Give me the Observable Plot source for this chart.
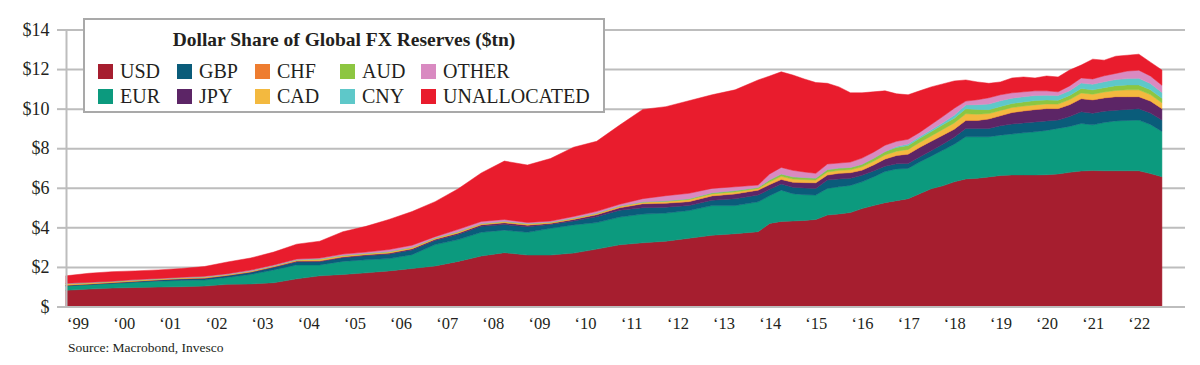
<!DOCTYPE html>
<html>
<head>
<meta charset="utf-8">
<script src="https://cdn.jsdelivr.net/npm/d3@7"></script>
<script src="https://cdn.jsdelivr.net/npm/@observablehq/plot@0.6"></script>
<style>
  body { margin: 0; background: #fff; }
  #wrap { position: relative; width: 1200px; height: 365px; font-family: "Liberation Serif", "Times New Roman", serif; color: #231f20; }
  #legend { position: absolute; left: 83px; top: 18px; width: 518px; height: 91px; border: 2px solid #a9a9a9; background: #fff; }
  #legend .title { position: absolute; left: 0; right: 0; top: 9px; text-align: center; font-weight: bold; font-size: 19.5px; }
  #legend .item { position: absolute; display: flex; align-items: center; font-size: 20px; line-height: 1; white-space: nowrap; }
  #legend .sw { width: 15px; height: 15px; margin-right: 7px; }
  #source { position: absolute; left: 68px; top: 341px; font-size: 13.5px; line-height: 1; }
</style>
</head>
<body>
<div id="wrap">
  <div id="chart"></div>
  <div id="legend"><div class="title">Dollar Share of Global FX Reserves ($tn)</div></div>
  <div id="source">Source: Macrobond, Invesco</div>
</div>
<script>
// ---- data (US$ trillions) ----
const quarters = [
  "1998Q4","1999Q2","1999Q4","2000Q2","2000Q4","2001Q2","2001Q4","2002Q2","2002Q4","2003Q2",
  "2003Q4","2004Q2","2004Q4","2005Q2","2005Q4","2006Q2","2006Q4","2007Q2","2007Q4","2008Q2",
  "2008Q4","2009Q2","2009Q4","2010Q2","2010Q4","2011Q2","2011Q4","2012Q2","2012Q4","2013Q2",
  "2013Q4","2014Q1","2014Q2","2014Q3","2014Q4","2015Q1","2015Q2","2015Q3","2015Q4","2016Q1",
  "2016Q2","2016Q3","2016Q4","2017Q1","2017Q2","2017Q3","2017Q4","2018Q1","2018Q2","2018Q3",
  "2018Q4","2019Q1","2019Q2","2019Q3","2019Q4","2020Q1","2020Q2","2020Q3","2020Q4","2021Q1",
  "2021Q2","2021Q3","2021Q4","2022Q1","2022Q2","2022Q3"
];
const USD = [
  0.82,0.88,0.93,0.96,0.98,1.00,1.03,1.12,1.14,1.20,
  1.40,1.55,1.62,1.70,1.80,1.92,2.05,2.28,2.55,2.72,
  2.60,2.60,2.70,2.90,3.12,3.22,3.30,3.45,3.60,3.68,
  3.78,4.20,4.30,4.32,4.35,4.40,4.62,4.68,4.75,4.95,
  5.10,5.25,5.35,5.45,5.70,5.95,6.10,6.30,6.45,6.48,
  6.55,6.62,6.65,6.65,6.65,6.66,6.70,6.78,6.85,6.87,
  6.86,6.86,6.86,6.86,6.72,6.56
];
const EUR = [
  0.22,0.22,0.23,0.26,0.30,0.32,0.31,0.35,0.48,0.65,
  0.70,0.55,0.66,0.66,0.62,0.70,1.08,1.10,1.20,1.14,
  1.15,1.35,1.42,1.34,1.40,1.45,1.42,1.40,1.50,1.42,
  1.51,1.40,1.58,1.38,1.30,1.23,1.35,1.37,1.37,1.35,
  1.45,1.57,1.60,1.53,1.60,1.65,1.80,1.90,2.13,2.10,
  2.03,2.04,2.07,2.13,2.18,2.24,2.30,2.32,2.40,2.31,
  2.44,2.52,2.54,2.56,2.48,2.29
];
const GBP = [
  0.02,0.02,0.03,0.04,0.05,0.06,0.07,0.08,0.10,0.12,
  0.15,0.16,0.18,0.20,0.22,0.24,0.20,0.26,0.30,0.28,
  0.28,0.20,0.20,0.30,0.35,0.32,0.30,0.25,0.27,0.35,
  0.34,0.32,0.31,0.33,0.34,0.34,0.42,0.40,0.36,0.33,
  0.30,0.27,0.26,0.25,0.26,0.27,0.30,0.36,0.42,0.42,
  0.42,0.48,0.50,0.50,0.50,0.48,0.42,0.50,0.59,0.59,
  0.57,0.54,0.56,0.58,0.58,0.57
];
const JPY = [
  0.02,0.02,0.02,0.02,0.02,0.03,0.03,0.03,0.03,0.04,
  0.05,0.05,0.05,0.06,0.06,0.06,0.07,0.07,0.08,0.09,
  0.08,0.05,0.08,0.10,0.12,0.20,0.20,0.20,0.22,0.24,
  0.25,0.24,0.23,0.25,0.27,0.28,0.25,0.28,0.28,0.26,
  0.30,0.36,0.42,0.47,0.48,0.48,0.45,0.40,0.40,0.40,
  0.48,0.50,0.58,0.60,0.62,0.62,0.58,0.60,0.66,0.67,
  0.67,0.68,0.64,0.60,0.60,0.58
];
const CHF = [
  0.01,0.01,0.01,0.01,0.01,0.01,0.01,0.01,0.01,0.01,
  0.01,0.01,0.01,0.01,0.01,0.01,0.01,0.01,0.01,0.02,
  0.02,0.02,0.02,0.02,0.02,0.02,0.02,0.02,0.02,0.02,
  0.02,0.02,0.02,0.02,0.02,0.02,0.02,0.02,0.02,0.02,
  0.02,0.02,0.02,0.02,0.02,0.02,0.02,0.02,0.02,0.02,
  0.02,0.02,0.02,0.02,0.02,0.02,0.02,0.02,0.02,0.02,
  0.02,0.02,0.02,0.02,0.02,0.02
];
const CAD = [
  0.05,0.04,0.03,0.03,0.03,0.03,0.04,0.03,0.03,0.03,
  0.04,0.07,0.05,0.04,0.05,0.05,0.04,0.05,0.04,0.04,
  0.04,0.03,0.03,0.04,0.05,0.06,0.07,0.08,0.08,0.08,
  0.06,0.12,0.14,0.14,0.13,0.12,0.14,0.13,0.13,0.15,
  0.17,0.19,0.20,0.22,0.23,0.25,0.28,0.30,0.32,0.30,
  0.25,0.25,0.24,0.23,0.22,0.22,0.21,0.24,0.27,0.27,
  0.28,0.30,0.33,0.33,0.31,0.28
];
const AUD = [
  0.02,0.02,0.02,0.02,0.01,0.01,0.01,0.01,0.01,0.01,
  0.01,0.02,0.02,0.02,0.02,0.02,0.02,0.02,0.02,0.02,
  0.03,0.02,0.02,0.02,0.02,0.02,0.03,0.05,0.06,0.07,
  0.06,0.10,0.12,0.12,0.11,0.10,0.12,0.12,0.12,0.13,
  0.15,0.17,0.19,0.20,0.21,0.22,0.23,0.24,0.25,0.24,
  0.20,0.20,0.20,0.21,0.22,0.20,0.20,0.21,0.23,0.22,
  0.22,0.24,0.25,0.25,0.24,0.22
];
const CNY = [
  0,0,0,0,0,0,0,0,0,0,
  0,0,0,0,0,0,0,0,0,0,
  0,0,0,0,0,0,0,0,0,0,
  0,0,0,0,0,0,0,0,0,0,
  0,0,0.05,0.07,0.08,0.09,0.11,0.15,0.20,0.24,
  0.28,0.29,0.27,0.26,0.25,0.24,0.23,0.24,0.27,0.28,
  0.30,0.31,0.32,0.33,0.32,0.30
];
const OTHER = [
  0.01,0.01,0.01,0.02,0.02,0.02,0.03,0.03,0.04,0.04,
  0.04,0.04,0.06,0.06,0.10,0.10,0.06,0.11,0.10,0.09,
  0.05,0.05,0.08,0.09,0.09,0.16,0.26,0.27,0.22,0.19,
  0.12,0.30,0.33,0.32,0.28,0.24,0.28,0.25,0.27,0.31,
  0.31,0.32,0.26,0.24,0.22,0.27,0.31,0.35,0.19,0.25,
  0.32,0.30,0.27,0.25,0.24,0.22,0.19,0.24,0.26,0.27,
  0.30,0.31,0.38,0.41,0.38,0.36
];
const UNALLOCATED = [
  0.38,0.46,0.48,0.44,0.43,0.44,0.49,0.59,0.61,0.65,
  0.75,0.85,1.13,1.30,1.52,1.70,1.77,2.05,2.45,2.95,
  2.90,3.16,3.50,3.54,4.00,4.51,4.50,4.68,4.73,4.90,
  5.31,4.95,4.83,4.82,4.70,4.59,4.08,3.85,3.50,3.30,
  3.05,2.75,2.40,2.25,2.10,1.90,1.65,1.38,1.07,0.90,
  0.73,0.65,0.75,0.75,0.65,0.75,0.75,0.80,0.65,1.00,
  0.79,0.87,0.80,0.81,0.70,0.77
];
const currencies = ["USD","EUR","GBP","JPY","CHF","CAD","AUD","CNY","OTHER","UNALLOCATED"];
const colors = ["#a61e2f","#0c9a7e","#0a5c7a","#5c2566","#ee7d30","#f3b93f","#8dc641","#5ec8c9","#d98ac1","#e91c2d"];
const yTicks = [0,2,4,6,8,10,12,14];
const xTicks = d3.range(1999, 2023);

const series = {USD, EUR, GBP, JPY, CHF, CAD, AUD, CNY, OTHER, UNALLOCATED};
const toYear = q => +q.slice(0, 4) + (+q.slice(5) - 1) / 4;
const data = currencies.flatMap(c => quarters.map((q, i) => ({t: toYear(q), currency: c, value: series[c][i]})));

const grey = "#bdbdbd";
const chart = Plot.plot({
  width: 1200,
  height: 335,
  marginLeft: 66,
  marginRight: 15,
  marginTop: 29.5,
  marginBottom: 28.5,
  style: {fontFamily: '"Liberation Serif", "Times New Roman", serif', color: "#231f20", background: "transparent", overflow: "visible"},
  x: {domain: [1998.75, 2023], label: null},
  y: {domain: [0, 14], label: null},
  color: {domain: currencies, range: colors},
  marks: [
    Plot.gridY(yTicks, {stroke: grey, strokeOpacity: 1, strokeWidth: 2}),
    Plot.areaY(data, {x: "t", y: "value", fill: "currency", stroke: "currency", strokeWidth: 0.5, order: currencies, curve: "linear"}),
    Plot.ruleY([0], {stroke: grey, strokeWidth: 2}),
    Plot.ruleX([1998.75], {stroke: grey, strokeWidth: 2}),
    Plot.axisY(yTicks, {label: null, tickSize: 9, tickPadding: 8, stroke: grey, strokeWidth: 2, fill: "#231f20", fontSize: 18, tickFormat: d => d === 0 ? "$" : "$" + d}),
    Plot.axisX(xTicks, {label: null, tickSize: 0, tickPadding: 10, fill: "#231f20", fontSize: 16.5, tickFormat: d => "\u2018" + String(d).slice(2)})
  ]
});
document.getElementById("chart").appendChild(chart);

// legend (HTML overlay inside the plot area)
const legend = document.getElementById("legend");
const colX = [13, 92, 170, 255, 336];
const rowY = [41, 66];
const legendOrder = [["USD","EUR"],["GBP","JPY"],["CHF","CAD"],["AUD","CNY"],["OTHER","UNALLOCATED"]];
legendOrder.forEach((pair, ci) => pair.forEach((name, ri) => {
  const el = document.createElement("div");
  el.className = "item";
  el.style.left = colX[ci] + "px";
  el.style.top = rowY[ri] + "px";
  const sw = document.createElement("div");
  sw.className = "sw";
  sw.style.background = colors[currencies.indexOf(name)];
  el.appendChild(sw);
  el.appendChild(document.createTextNode(name));
  legend.appendChild(el);
}));
</script>
</body>
</html>
